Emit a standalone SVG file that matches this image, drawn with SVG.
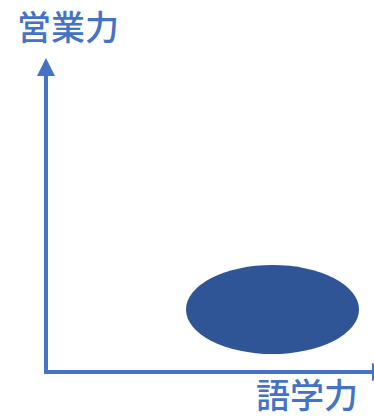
<svg xmlns="http://www.w3.org/2000/svg" width="374" height="417" viewBox="0 0 374 417">
<style>
.lbl{font-family:"Noto Sans CJK JP","Noto Sans CJK SC",sans-serif;font-size:34px;font-weight:500;fill:#4472C4;}
.axis{stroke:#4472C4;stroke-width:4;fill:none;}
</style>
<defs>
<marker id="ah" markerUnits="userSpaceOnUse" markerWidth="20" markerHeight="20" refX="0" refY="9" orient="auto">
<path d="M0,0 L18,9 L0,18 Z" fill="#4472C4"/>
</marker>
</defs>
<g id="connectors">
<path class="axis" d="M46,372 L46,76" marker-end="url(#ah)"/>
<path class="axis" d="M44,372 L372,372" marker-end="url(#ah)"/>
</g>
<g id="label-y"><text class="lbl" x="17" y="40">営業力</text></g>
<g id="label-x"><text class="lbl" x="256" y="408">語学力</text></g>
<g id="blob"><ellipse cx="272.5" cy="309.5" rx="86.5" ry="44.5" fill="#2F5597"/></g>
</svg>
